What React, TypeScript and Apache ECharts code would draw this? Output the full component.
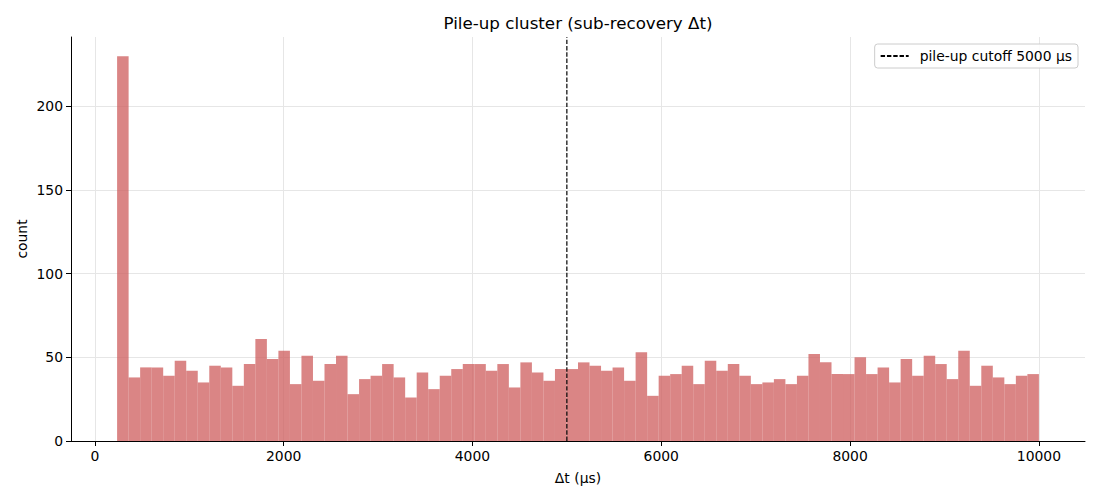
import React, { useEffect, useRef } from "react";
import * as echarts from "echarts";

// Histogram data (80 equal-width bins)
const binStart = 236;
const binEnd = 10000;
const counts = [
  230, 38, 44, 44, 39, 48, 42, 35, 45, 44,
  33, 46, 61, 49, 54, 34, 51, 36, 46, 51,
  28, 37, 39, 46, 38, 26, 41, 31, 39, 43,
  46, 46, 42, 46, 32, 47, 41, 36, 43, 43,
  47, 45, 42, 44, 36, 53, 27, 39, 40, 45,
  34, 48, 42, 46, 39, 34, 35, 37, 34, 39,
  52, 47, 40, 40, 50, 40, 44, 35, 49, 39,
  51, 46, 37, 54, 33, 45, 38, 34, 39, 40,
];
const cutoff = 5000;
const xTicks = [0, 2000, 4000, 6000, 8000, 10000];
const yTicks = [0, 50, 100, 150, 200];
const legendName = "pile-up cutoff 5000 µs";
const titleText = "Pile-up cluster (sub-recovery Δt)";
const xName = "Δt (µs)";
const yName = "count";

const FONT = "DejaVu Sans";
const FS = 13.9;

export default function App() {
  const ref = useRef<HTMLDivElement>(null);
  useEffect(() => {
    if (!ref.current) return;
    const chart = echarts.init(ref.current, undefined, { renderer: "svg" });
    const w = (binEnd - binStart) / counts.length;
    const bins = counts.map((c, i) => [binStart + i * w, binStart + (i + 1) * w, c]);
    const yMax = Math.max(...counts) * 1.05;
    const span = binEnd - binStart;
    const xMin = binStart - span * 0.05;
    const xMax = binEnd + span * 0.05;

    const option: any = {
      animation: false,
      backgroundColor: "#ffffff",
      textStyle: { fontFamily: FONT },
      grid: { left: 71, right: 15, top: 37, bottom: 59, containLabel: false },
      xAxis: {
        type: "value",
        min: xMin,
        max: xMax,
        axisLine: { show: true, onZero: false, lineStyle: { color: "#000", width: 1 } },
        axisTick: { show: true, length: 5, customValues: xTicks, lineStyle: { color: "#000", width: 1 } },
        axisLabel: {
          customValues: xTicks,
          color: "#000",
          fontSize: FS,
          fontFamily: FONT,
          margin: 8,
          formatter: (v: number) => String(v),
        },
        splitLine: { show: true, lineStyle: { color: "#e6e6e6", width: 1 } },
      },
      yAxis: {
        type: "value",
        min: 0,
        max: yMax,
        axisLine: { show: true, onZero: false, lineStyle: { color: "#000", width: 1 } },
        axisTick: { show: true, length: 5, customValues: yTicks, lineStyle: { color: "#000", width: 1 } },
        axisLabel: {
          customValues: yTicks,
          color: "#000",
          fontSize: FS,
          fontFamily: FONT,
          margin: 8,
          formatter: (v: number) => String(v),
        },
        splitLine: { show: true, lineStyle: { color: "#e6e6e6", width: 1 } },
      },
      legend: {
        data: [{ name: legendName, itemStyle: { opacity: 0 } }],
        right: 22,
        top: 44,
        orient: "vertical",
        padding: [5, 6, 5, 5],
        itemWidth: 28,
        itemHeight: 14,
        borderColor: "#cccccc",
        borderWidth: 1,
        borderRadius: 3,
        backgroundColor: "rgba(255,255,255,0.85)",
        textStyle: { color: "#000", fontSize: FS, fontFamily: FONT, padding: [0, 0, 0, 6] },
      },
      graphic: [
        {
          type: "text",
          x: 578,
          y: 23,
          style: {
            text: titleText,
            fill: "#000",
            fontSize: 16.7,
            fontFamily: FONT,
            align: "center",
            verticalAlign: "middle",
          },
        },
        {
          type: "text",
          x: 578,
          y: 478,
          style: {
            text: xName,
            fill: "#000",
            fontSize: FS,
            fontFamily: FONT,
            align: "center",
            verticalAlign: "middle",
          },
        },
        {
          type: "text",
          x: 22,
          y: 239,
          rotation: Math.PI / 2,
          style: {
            text: yName,
            fill: "#000",
            fontSize: FS,
            fontFamily: FONT,
            align: "center",
            verticalAlign: "middle",
          },
        },
      ],
      series: [
        {
          type: "custom",
          name: "hist",
          silent: true,
          renderItem: (params: any, api: any) => {
            const x0 = api.value(0);
            const x1 = api.value(1);
            const c = api.value(2);
            const p0 = api.coord([x0, 0]);
            const p1 = api.coord([x1, c]);
            return {
              type: "rect",
              shape: { x: p0[0], y: p1[1], width: p1[0] - p0[0], height: p0[1] - p1[1] },
              style: { fill: "rgba(205,92,92,0.75)" },
            };
          },
          encode: { x: [0, 1], y: 2 },
          data: bins,
        },
        {
          type: "line",
          name: legendName,
          silent: true,
          symbol: "none",
          data: [
            [cutoff, 0],
            [cutoff, yMax],
          ],
          lineStyle: { color: "#000", width: 1.2, type: [4.4, 1.9] },
          itemStyle: { color: "#000" },
          z: 5,
        },
      ],
    };
    chart.setOption(option);
    return () => chart.dispose();
  }, []);

  return (
    <div
      ref={ref}
      style={{ position: "fixed", left: 0, top: 0, width: 1100, height: 500 }}
    />
  );
}
